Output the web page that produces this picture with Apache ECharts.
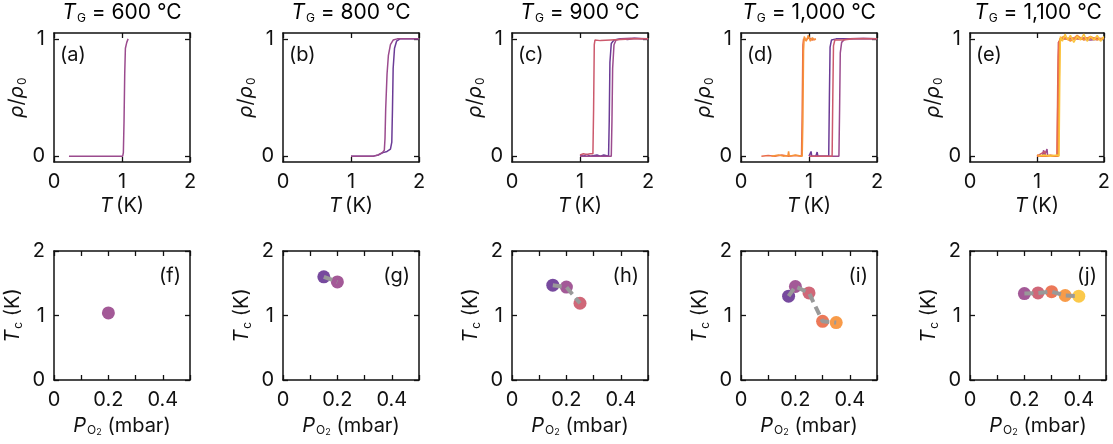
<!DOCTYPE html>
<html>
<head>
<meta charset="utf-8">
<script src="https://cdn.jsdelivr.net/npm/echarts@6/dist/echarts.min.js"></script>
<style>
  html, body { margin: 0; padding: 0; background: #fff; }
  #chart { width: 1113px; height: 444px; }
</style>
</head>
<body>
<div id="chart"></div>
<script>
// colours of the samples, from low to high oxygen pressure
const cPurple = '#6b3b96'
const cMagenta = '#9b4b8e'
const cPink = '#cc5a6d'
const cOrangeRed = '#ea6c4a'
const cOrange = '#f7923a'
const cYellow = '#fbc43c'

const growthTemps = ['600', '800', '900', '1,000', '1,100']
const topLetters = ['(a)', '(b)', '(c)', '(d)', '(e)']
const bottomLetters = ['(f)', '(g)', '(h)', '(i)', '(j)']

// rho/rho0 vs T curves, [T (K), rho/rho0]
const a_magenta = [[0.22, 0], [0.5, 0], [0.8, 0], [1.01, 0], [1.02, 0.03], [1.03, 0.3], [1.04, 0.7], [1.05, 0.92], [1.07, 0.97], [1.09, 1.0]]

const b_purple = [[1.0, 0], [1.2, 0], [1.33, 0], [1.4, 0.01], [1.47, 0.03], [1.53, 0.04], [1.58, 0.06], [1.6, 0.12], [1.61, 0.4], [1.62, 0.75], [1.64, 0.92], [1.67, 0.98], [1.72, 1.0], [1.85, 1.0], [2.0, 1.0]]
const b_magenta = [[1.0, 0], [1.2, 0], [1.33, 0], [1.4, 0.01], [1.46, 0.03], [1.49, 0.05], [1.5, 0.15], [1.51, 0.4], [1.53, 0.7], [1.55, 0.86], [1.58, 0.95], [1.62, 0.99], [1.68, 1.0], [1.85, 1.0], [2.0, 1.0]]

const c_purple = [[1.0, 0.01], [1.05, 0], [1.1, 0.015], [1.15, 0], [1.25, 0.01], [1.3, 0], [1.35, 0.01], [1.42, 0], [1.43, 0.3], [1.44, 0.8], [1.46, 0.96], [1.5, 0.99], [1.6, 1.0], [1.7, 0.995], [1.8, 1.005], [1.9, 1.0], [2.0, 1.0]]
const c_magenta = [[1.0, 0], [1.2, 0], [1.4, 0], [1.46, 0], [1.47, 0.3], [1.48, 0.75], [1.5, 0.95], [1.53, 0.99], [1.6, 1.0], [1.75, 1.005], [2.0, 1.0]]
const c_pink = [[1.0, 0.01], [1.05, 0.02], [1.1, 0.015], [1.15, 0.02], [1.19, 0.02], [1.2, 0.4], [1.21, 0.95], [1.22, 0.99], [1.3, 0.985], [1.45, 0.99], [1.6, 0.995], [1.8, 1.0], [2.0, 1.0]]

const d_purple = [[1.0, 0], [1.03, 0.04], [1.04, 0], [1.1, 0], [1.12, 0.035], [1.13, 0], [1.2, 0], [1.29, 0], [1.3, 0.5], [1.31, 0.93], [1.33, 0.99], [1.4, 1.0], [1.6, 1.0], [1.8, 1.0], [2.0, 1.0]]
const d_magenta = [[1.0, 0], [1.2, 0], [1.35, 0], [1.44, 0], [1.45, 0.4], [1.46, 0.88], [1.48, 0.97], [1.52, 0.995], [1.6, 1.0], [1.8, 1.005], [2.0, 1.0]]
const d_pink = [[1.0, 0], [1.15, 0], [1.3, 0], [1.34, 0], [1.35, 0.5], [1.36, 0.94], [1.38, 0.99], [1.5, 0.99], [1.65, 1.0], [1.8, 1.0], [2.0, 1.0]]
const d_orangeRed = [[0.3, 0], [0.4, 0.005], [0.5, 0], [0.6, 0.01], [0.7, 0], [0.8, 0.005], [0.89, 0], [0.9, 0.4], [0.91, 0.95], [0.92, 1.0], [0.95, 0.99], [1.0, 1.01], [1.05, 0.99], [1.1, 1.0]]
const d_orange = [[0.45, 0], [0.55, 0.01], [0.62, 0], [0.69, 0.005], [0.7, 0.04], [0.71, 0], [0.8, 0.01], [0.9, 0], [0.91, 0.3], [0.92, 0.9], [0.93, 1.02], [0.96, 0.98], [0.99, 1.03], [1.02, 0.98], [1.05, 1.01], [1.08, 0.99], [1.1, 1.0]]

const e_magenta = [[1.0, 0], [1.08, 0], [1.1, 0.05], [1.11, 0], [1.15, 0.06], [1.16, 0], [1.25, 0], [1.31, 0], [1.32, 0.5], [1.33, 0.96], [1.36, 1.0], [1.6, 1.0], [1.8, 0.99], [2.0, 1.0]]
const e_pink = [[1.0, 0], [1.12, 0.04], [1.13, 0], [1.2, 0], [1.3, 0], [1.31, 0.6], [1.32, 0.97], [1.36, 1.0], [1.6, 1.01], [2.0, 1.0]]
const e_orangeRed = [[1.0, 0], [1.1, 0], [1.2, 0], [1.3, 0], [1.31, 0.4], [1.32, 0.85], [1.33, 0.98], [1.4, 1.0], [1.6, 1.0], [1.8, 1.01], [2.0, 1.0]]
const e_orange = [[1.0, 0.01], [1.1, 0], [1.2, 0.01], [1.32, 0], [1.33, 0.5], [1.34, 1.0], [1.4, 1.02], [1.5, 0.98], [1.6, 1.03], [1.7, 0.99], [1.8, 1.02], [1.9, 0.99], [2.0, 1.01]]
const e_yellow = [[1.02, 0], [1.1, 0.01], [1.2, 0], [1.3, 0.01], [1.33, 0], [1.34, 0.6], [1.35, 1.02], [1.38, 0.98], [1.42, 1.04], [1.46, 0.99], [1.5, 1.03], [1.55, 0.97], [1.6, 1.02], [1.65, 0.99], [1.7, 1.04], [1.75, 0.98], [1.8, 1.02], [1.85, 0.99], [1.9, 1.03], [1.95, 0.98], [2.0, 1.02]]

const topCurves = [
  [[cMagenta, a_magenta]],
  [[cPurple, b_purple], [cMagenta, b_magenta]],
  [[cPurple, c_purple], [cMagenta, c_magenta], [cPink, c_pink]],
  [[cPurple, d_purple], [cMagenta, d_magenta], [cPink, d_pink], [cOrangeRed, d_orangeRed], [cOrange, d_orange]],
  [[cMagenta, e_magenta], [cPink, e_pink], [cOrangeRed, e_orangeRed], [cOrange, e_orange], [cYellow, e_yellow]]
]

// Tc vs oxygen pressure
const pO2 = [
  [0.2],
  [0.15, 0.2],
  [0.15, 0.2, 0.25],
  [0.175, 0.2, 0.25, 0.3, 0.35],
  [0.2, 0.25, 0.3, 0.35, 0.4]
]
const tc = [
  [1.04],
  [1.6, 1.52],
  [1.47, 1.44, 1.19],
  [1.3, 1.45, 1.35, 0.91, 0.89],
  [1.34, 1.35, 1.37, 1.31, 1.3]
]
const tcColors = [
  [cMagenta],
  [cPurple, cMagenta],
  [cPurple, cMagenta, cPink],
  [cPurple, cMagenta, cPink, cOrangeRed, cOrange],
  [cMagenta, cPink, cOrangeRed, cOrange, cYellow]
]

const font = 'Inter, "Liberation Sans", Arial, sans-serif'
const fs = 20
const ink = '#111'
const makeRich = (size) => ({
  n: {fontFamily: font, fontSize: size, color: ink},
  i: {fontFamily: font, fontSize: size, color: ink, fontStyle: 'italic'},
  sub: {fontFamily: font, fontSize: Math.round(size * 0.58), color: ink, padding: [Math.round(size * 0.48), 0, 0, 1]},
  sub2: {fontFamily: font, fontSize: Math.round(size * 0.47), color: ink, padding: [Math.round(size * 0.68), 0, 0, 0]}
})
const rich = makeRich(fs)
const titleRich = makeRich(21)

const panelLeft = [54, 283, 512, 741, 970]
const panelW = 136
const panelH = 129
const topY = 33
const botY = 251

const grids = []
const xAxes = []
const yAxes = []
const series = []
const graphics = []

const frameAxis = (extra) => Object.assign({
  type: 'value',
  axisLine: {show: true, onZero: false, lineStyle: {color: ink, width: 1.5}},
  axisTick: {show: true, inside: true, length: 5, lineStyle: {color: ink, width: 1.3}},
  splitLine: {show: false},
  axisLabel: {show: false}
}, extra)

const labelStyle = {show: true, color: ink, fontFamily: font, fontSize: fs, margin: 9}

const addPanel = (row, i) => {
  const g = grids.length
  const top = row === 0 ? topY : botY
  grids.push({left: panelLeft[i], top: top, width: panelW, height: panelH})

  const xr = row === 0 ? {min: 0, max: 2, interval: 1} : {min: 0, max: 0.5, interval: 0.1}
  const xName = row === 0 ? '{i|T} {n|(K)}' : '{i|P}{sub|O}{sub2|2}{n| (mbar)}'
  xAxes.push(frameAxis(Object.assign({
    gridIndex: g, position: 'bottom',
    name: xName, nameLocation: 'middle', nameGap: 34,
    nameTextStyle: {rich: rich},
    axisLabel: Object.assign({}, labelStyle, {margin: 10}, row === 1 ? {customValues: [0, 0.2, 0.4]} : {})
  }, xr)))
  xAxes.push(frameAxis(Object.assign({gridIndex: g, position: 'top'}, xr)))

  const yr = row === 0
      ? {min: -0.05, max: 1.05, axisTickValues: [0, 1]}
      : {min: 0, max: 2, interval: 1}
  const yName = row === 0 ? '{i|ρ}{n|/}{i|ρ}{sub|0}' : '{i|T}{sub|c}{n| (K)}'
  const yMain = {
    gridIndex: g, position: 'left', min: yr.min, max: yr.max,
    name: yName, nameLocation: 'middle', nameGap: row === 0 ? 23 : 30,
    nameTextStyle: {rich: rich},
    axisLabel: Object.assign({}, labelStyle)
  }
  const yMirror = {gridIndex: g, position: 'right', min: yr.min, max: yr.max}
  if (row === 0) {
    yMain.axisLabel.customValues = yr.axisTickValues
    yMain.axisTick = {show: true, inside: true, length: 5, customValues: yr.axisTickValues, lineStyle: {color: ink, width: 1.3}}
    yMirror.axisTick = {show: true, inside: true, length: 5, customValues: yr.axisTickValues, lineStyle: {color: ink, width: 1.3}}
  } else {
    yMain.interval = yr.interval
    yMirror.interval = yr.interval
  }
  yAxes.push(frameAxis(yMain))
  yAxes.push(frameAxis(yMirror))

  const xi = 2 * g
  if (row === 0) {
    topCurves[i].forEach(([color, pts]) => {
      series.push({
        type: 'line', xAxisIndex: xi, yAxisIndex: xi, data: pts,
        symbol: 'none', silent: true, animation: false,
        lineStyle: {color: color, width: 1.5}
      })
    })
    graphics.push({
      type: 'text', left: panelLeft[i] + 6, top: top + 12,
      style: {text: topLetters[i], fontFamily: font, fontSize: fs, fill: ink}
    })
    graphics.push({
      type: 'text', x: panelLeft[i] + panelW / 2, y: 2,
      style: {
        text: '{i|T}{sub|G}{n| = ' + growthTemps[i] + ' °C}', rich: titleRich,
        align: 'center', verticalAlign: 'top'
      }
    })
  } else {
    const pts = pO2[i].map((p, k) => ({value: [p, tc[i][k]], itemStyle: {color: tcColors[i][k]}}))
    series.push({
      type: 'scatter', xAxisIndex: xi, yAxisIndex: xi, data: pts,
      symbolSize: 13, silent: true, animation: false, z: 2,
      itemStyle: {opacity: 0.92}
    })
    if (pts.length > 1) {
      series.push({
        type: 'line', xAxisIndex: xi, yAxisIndex: xi,
        data: pO2[i].map((p, k) => [p, tc[i][k]]),
        symbol: 'none', silent: true, animation: false, z: 3,
        lineStyle: {color: '#999', width: 4, type: [9, 5], cap: 'butt'}
      })
    }
    graphics.push({
      type: 'text', x: panelLeft[i] + panelW - 9, y: top + 15,
      style: {text: bottomLetters[i], fontFamily: font, fontSize: fs, fill: ink, align: 'right', verticalAlign: 'top'}
    })
  }
}

for (let i = 0; i < 5; i++) addPanel(0, i)
for (let i = 0; i < 5; i++) addPanel(1, i)

const chart = echarts.init(document.getElementById('chart'))
chart.setOption({
  backgroundColor: '#fff',
  animation: false,
  grid: grids,
  xAxis: xAxes,
  yAxis: yAxes,
  series: series,
  graphic: graphics
})
</script>
</body>
</html>
